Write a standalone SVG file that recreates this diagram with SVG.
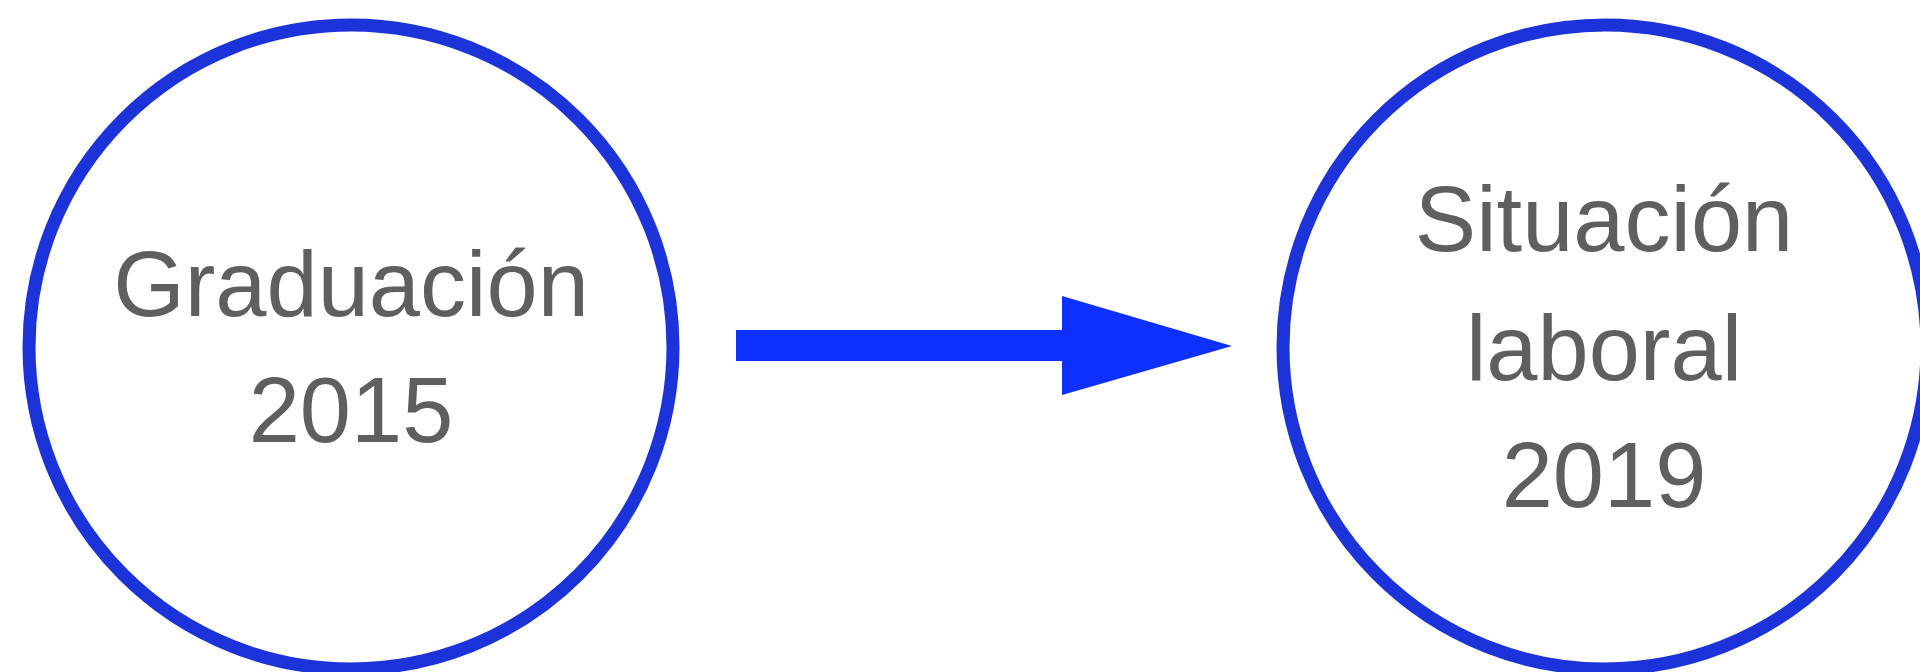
<svg xmlns="http://www.w3.org/2000/svg" width="1920" height="672" viewBox="0 0 1920 672">
  <style>
    .node { fill: #ffffff; stroke: #1b33d9; stroke-width: 13; }
    .label { font-family: "Liberation Sans", Arial, Helvetica, sans-serif; font-size: 92px; fill: #5f5f5f; text-anchor: middle; }
    .conn { fill: #0d30ff; stroke: none; }
  </style>
  <rect x="0" y="0" width="1920" height="672" fill="#ffffff"/>
  <g id="node-graduacion">
    <circle class="node" cx="351" cy="347" r="322"/>
    <text class="label" x="351" y="316">Graduación</text>
    <text class="label" x="351" y="442">2015</text>
  </g>
  <g id="node-situacion">
    <circle class="node" cx="1605" cy="347" r="322"/>
    <text class="label" x="1604" y="251">Situación</text>
    <text class="label" x="1604" y="380">laboral</text>
    <text class="label" x="1604" y="507">2019</text>
  </g>
  <g id="connectors">
    <path class="conn" d="M736,330 L1062,330 L1062,296 L1232,346 L1062,395 L1062,361 L736,361 Z"/>
  </g>
</svg>
